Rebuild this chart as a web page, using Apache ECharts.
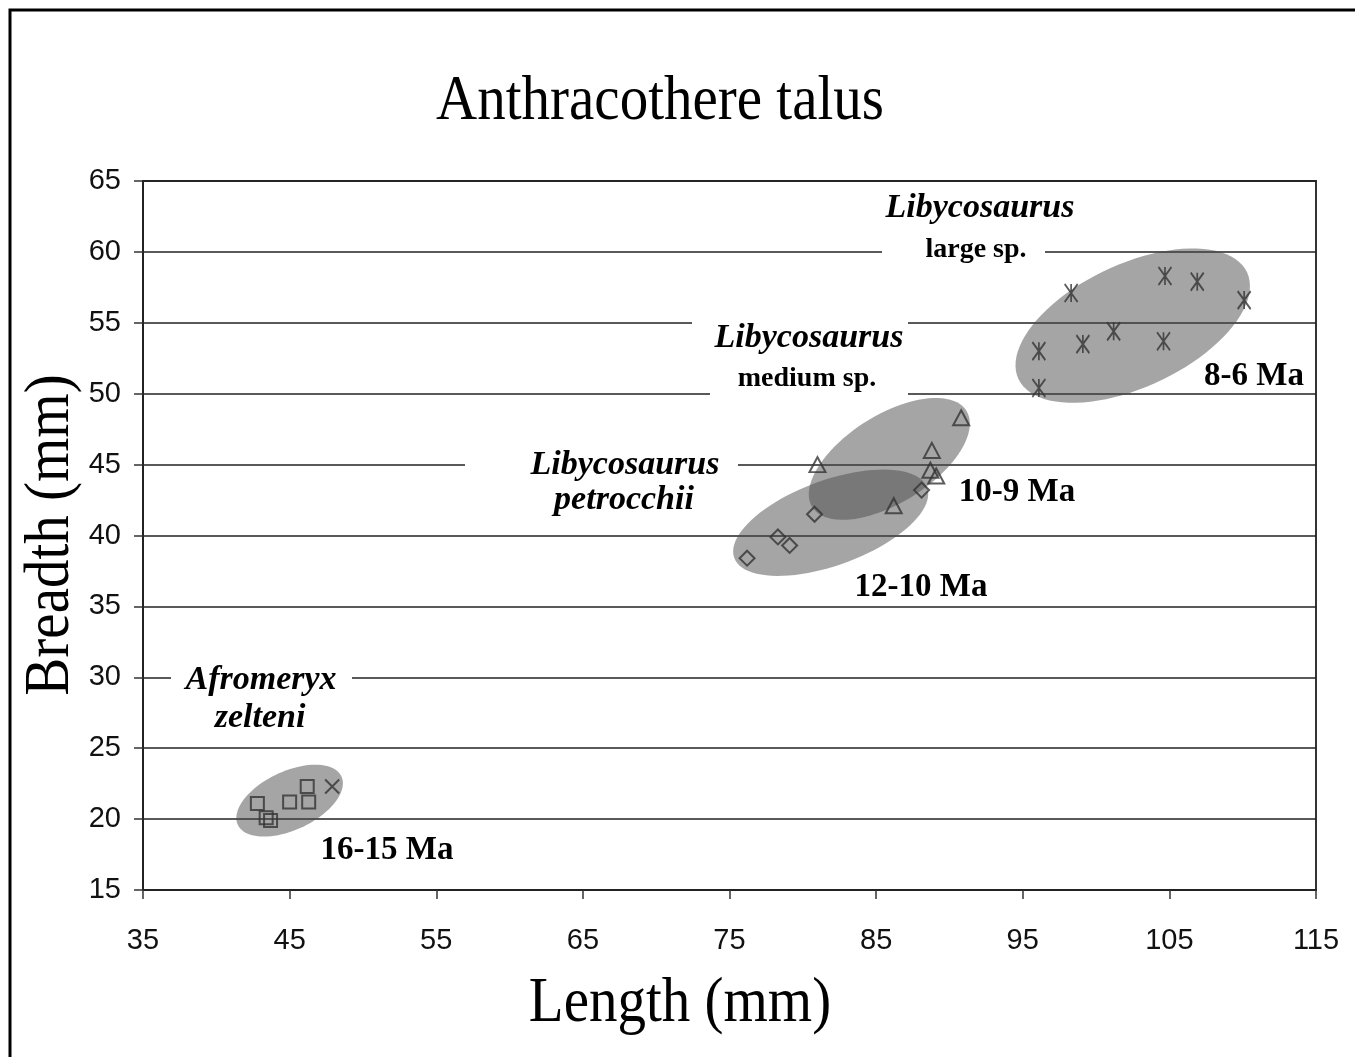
<!DOCTYPE html>
<html>
<head>
<meta charset="utf-8">
<title>Anthracothere talus</title>
<script src="https://cdn.jsdelivr.net/npm/echarts@6.0.0/dist/echarts.min.js"></script>
<style>
  html, body { margin: 0; padding: 0; background: #fff; }
  #chart { width: 1355px; height: 1057px; }
</style>
</head>
<body>
<div id="chart"></div>
<script>
// talus measurements [length, breadth] in mm
const afromeryxSquares = [[42.8, 21.1], [43.4, 20.1], [43.7, 19.9], [45.0, 21.2], [46.2, 22.3], [46.3, 21.2]];
const afromeryxCross = [[47.9, 22.3]];
const petrocchiiDiamonds = [[76.2, 38.4], [78.3, 39.9], [79.1, 39.3], [80.8, 41.5], [88.1, 43.2]];
const mediumTriangles = [[81.0, 45.0], [86.2, 42.1], [88.8, 46.0], [88.7, 44.6], [89.1, 44.2], [90.8, 48.3]];
const largeStars = [[98.3, 57.1], [104.7, 58.3], [106.9, 57.9], [110.1, 56.6], [101.2, 54.4], [99.1, 53.5], [96.1, 53.0], [104.6, 53.7], [96.1, 50.4]];

// age groups: [centre length, centre breadth, half-length, half-width (x units), tilt deg]
const ageEllipses = [
  [45.0, 21.3, 3.9, 2.0, 25],
  [81.9, 40.9, 7.0, 2.9, 20],
  [85.9, 45.4, 6.2, 3.0, 32],
  [102.5, 54.8, 8.6, 4.2, 25]
];

const xTicks = { min: 35, max: 115, step: 10 };
const yTicks = { min: 15, max: 65, step: 5 };

const chart = echarts.init(document.getElementById('chart'));

const serif = 'Liberation Serif';
const stroke = '#333';
const hollow = {
  color: 'rgba(0,0,0,0)',
  borderColor: stroke,
  borderWidth: 2
};

function label(text, x, y, size, italic) {
  return {
    type: 'text',
    x: x,
    y: y,
    z: 60,
    style: {
      text: text,
      x: 0,
      y: 0,
      align: 'center',
      verticalAlign: 'middle',
      fill: '#000',
      font: (italic ? 'italic ' : '') + 'bold ' + size + 'px "' + serif + '"'
    }
  };
}

function bigText(text, x, y, rotation) {
  return {
    type: 'text',
    x: x,
    y: y,
    z: 60,
    rotation: rotation || 0,
    scaleY: 1.1,
    style: {
      text: text,
      x: 0,
      y: 0,
      align: 'center',
      verticalAlign: 'middle',
      fill: '#000',
      font: '57px "' + serif + '"'
    }
  };
}

function whiteBox(x1, y1, x2, y2) {
  return {
    type: 'rect',
    z: 55,
    shape: { x: x1, y: y1, width: x2 - x1, height: y2 - y1 },
    style: { fill: '#fff' }
  };
}

const option = {
  backgroundColor: '#fff',
  animation: false,
  grid: {
    left: 143,
    right: 39,
    top: 181,
    bottom: 167,
    show: true,
    borderColor: stroke,
    borderWidth: 2
  },
  xAxis: {
    type: 'value',
    min: xTicks.min,
    max: xTicks.max,
    interval: xTicks.step,
    axisLine: { lineStyle: { color: '#222', width: 2 } },
    axisTick: { show: true, length: 9, lineStyle: { color: stroke, width: 1.5 } },
    axisLabel: { fontFamily: 'Liberation Sans', fontSize: 29, color: '#111', margin: 36 },
    splitLine: { show: false }
  },
  yAxis: {
    type: 'value',
    min: yTicks.min,
    max: yTicks.max,
    interval: yTicks.step,
    axisLine: { show: true, lineStyle: { color: '#222', width: 2 } },
    axisTick: { show: true, length: 9, lineStyle: { color: stroke, width: 1.5 } },
    axisLabel: { fontFamily: 'Liberation Sans', fontSize: 29, color: '#111', margin: 22 },
    splitLine: { show: true, lineStyle: { color: '#222', width: 1.5 } }
  },
  series: [
    {
      type: 'custom',
      name: 'age groups',
      z: 1,
      data: ageEllipses,
      encode: { x: 0, y: 1 },
      renderItem: function (params, api) {
        const c = api.coord([api.value(0), api.value(1)]);
        const unit = api.size([1, 1])[0];
        const a = api.value(2) * unit;
        const b = api.value(3) * unit;
        const th = api.value(4) * Math.PI / 180;
        const pts = [];
        for (let i = 0; i < 90; i++) {
          const t = i / 90 * Math.PI * 2;
          const dx = a * Math.cos(t);
          const dy = b * Math.sin(t);
          pts.push([c[0] + dx * Math.cos(th) + dy * Math.sin(th),
                    c[1] - dx * Math.sin(th) + dy * Math.cos(th)]);
        }
        return {
          type: 'polygon',
          shape: { points: pts },
          style: { fill: 'rgba(75,75,75,0.5)' }
        };
      }
    },
    {
      type: 'scatter', name: 'Afromeryx zelteni', z: 3,
      data: afromeryxSquares, symbol: 'rect', symbolSize: 13, itemStyle: hollow
    },
    {
      type: 'scatter', name: 'Afromeryx zelteni x', z: 3,
      data: afromeryxCross, symbol: 'path://M0,0L10,10M10,0L0,10', symbolSize: 14, itemStyle: hollow
    },
    {
      type: 'scatter', name: 'Libycosaurus petrocchii', z: 3,
      data: petrocchiiDiamonds, symbol: 'diamond', symbolSize: 15, itemStyle: hollow
    },
    {
      type: 'scatter', name: 'Libycosaurus medium sp.', z: 3,
      data: mediumTriangles, symbol: 'triangle', symbolSize: [16, 15], itemStyle: hollow
    },
    {
      type: 'scatter', name: 'Libycosaurus large sp.', z: 3,
      data: largeStars, symbol: 'path://M0,0L10,14M10,0L0,14M5,0L5,14', symbolSize: [13, 18], itemStyle: hollow
    }
  ],
  graphic: [
    {
      type: 'rect', z: 70, silent: true,
      shape: { x: 10, y: 10, width: 1400, height: 1100 },
      style: { fill: 'none', stroke: '#000', lineWidth: 3 }
    },
    bigText('Anthracothere talus', 660, 103),
    bigText('Length (mm)', 680, 1005),
    bigText('Breadth (mm)', 52, 535, Math.PI / 2),
    whiteBox(882, 188, 1045, 266),
    whiteBox(692, 312, 908, 350),
    whiteBox(710, 355, 908, 402),
    whiteBox(465, 445, 738, 520),
    whiteBox(171, 658, 352, 735),
    label('Libycosaurus', 980, 208, 34, true),
    label('large sp.', 976, 250, 28, false),
    label('Libycosaurus', 809, 338, 34, true),
    label('medium sp.', 807, 379, 28, false),
    label('Libycosaurus', 625, 465, 34, true),
    label('petrocchii', 624, 500, 34, true),
    label('Afromeryx', 261, 680, 34, true),
    label('zelteni', 260, 718, 34, true),
    label('8-6 Ma', 1254, 376, 33, false),
    label('10-9 Ma', 1017, 492, 33, false),
    label('12-10 Ma', 921, 587, 33, false),
    label('16-15 Ma', 387, 850, 33, false)
  ]
};

chart.setOption(option);
</script>
</body>
</html>
